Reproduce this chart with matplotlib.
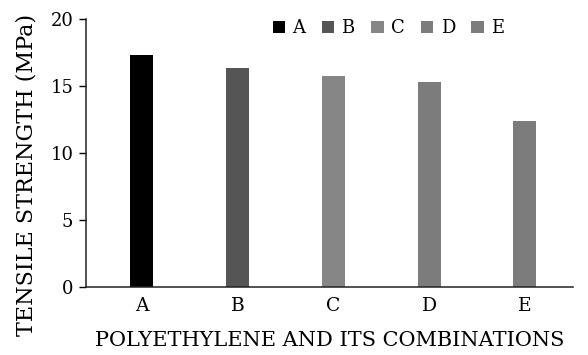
import matplotlib
matplotlib.use("Agg")
import matplotlib.pyplot as plt
from matplotlib.patches import Patch

samples = ["A", "B", "C", "D", "E"]
strength = [17.36, 16.32, 15.77, 15.30, 12.41]
colors = ["#000000", "#555555", "#868686", "#7c7c7c", "#7c7c7c"]

plt.rcParams["font.family"] = "DejaVu Serif"

fig = plt.figure(figsize=(5.88, 3.55), dpi=100)
ax = fig.add_axes([0.146, 0.1915, 0.828, 0.7545])

x = list(range(len(samples)))
ax.bar(x, strength, width=0.24, color=colors)

ax.set_xlim(-0.585, 4.5)
ax.set_ylim(0, 20)
ax.set_yticks([0, 5, 10, 15, 20])
ax.set_xticks(x)
ax.set_xticklabels(samples)
ax.tick_params(axis="y", direction="out", length=5, width=1, labelsize=13, pad=4)
ax.tick_params(axis="x", length=0, labelsize=13.5, pad=7)

for side in ["top", "right"]:
    ax.spines[side].set_visible(False)
for side in ["left", "bottom"]:
    ax.spines[side].set_linewidth(1.1)
    ax.spines[side].set_color("#222222")

ax.set_ylabel("TENSILE STRENGTH (MPa)", fontsize=16)
ax.yaxis.set_label_coords(-0.1, 0.42)
ax.set_xlabel("POLYETHYLENE AND ITS COMBINATIONS", fontsize=15, labelpad=12)

handles = [Patch(facecolor=c, label=s) for s, c in zip(samples, colors)]
ax.legend(handles=handles, ncol=5, frameon=False, loc="upper left",
          bbox_to_anchor=(0.35, 1.06), handlelength=0.7, handleheight=0.7,
          handletextpad=0.4, columnspacing=0.9,
          prop={"family": "DejaVu Serif", "size": 13})

fig.savefig("out.png", dpi=100)
